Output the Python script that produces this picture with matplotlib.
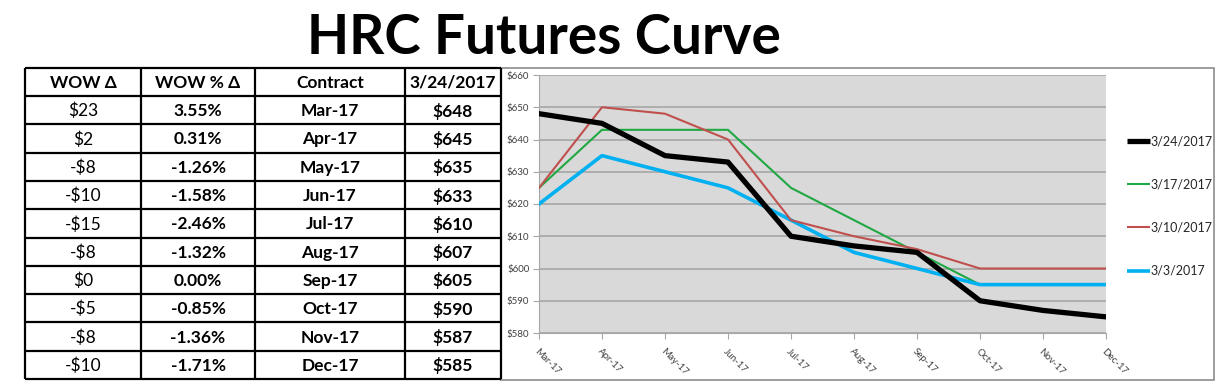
import matplotlib
matplotlib.use("Agg")
import matplotlib.pyplot as plt
from matplotlib.patches import Rectangle
from matplotlib.ticker import FuncFormatter, MultipleLocator

# ---------------- data ----------------
contracts = ["Mar-17", "Apr-17", "May-17", "Jun-17", "Jul-17",
             "Aug-17", "Sep-17", "Oct-17", "Nov-17", "Dec-17"]
series_labels = ["3/24/2017", "3/17/2017", "3/10/2017", "3/3/2017"]
curve_0324 = [648, 645, 635, 633, 610, 607, 605, 590, 587, 585]
curve_0317 = [625, 643, 643, 643, 625, 615, 605, 595, 595, 595]
curve_0310 = [625, 650, 648, 640, 615, 610, 606, 600, 600, 600]
curve_0303 = [620, 635, 630, 625, 615, 605, 600, 595, 595, 595]
wow_delta = [23, 2, -8, -10, -15, -8, 0, -5, -8, -10]
wow_pct = [3.55, 0.31, -1.26, -1.58, -2.46, -1.32, 0.00, -0.85, -1.36, -1.71]
table_headers = ["WOW Δ", "WOW % Δ", "Contract", "3/24/2017"]

W, H = 1222, 388
FONT = ["Lato", "DejaVu Sans"]
plt.rcParams["font.family"] = FONT

fig = plt.figure(figsize=(W / 100, H / 100), dpi=100)
fig.patch.set_facecolor("white")

# background axes in pixel coordinates
bg = fig.add_axes([0, 0, 1, 1])
bg.set_xlim(0, W)
bg.set_ylim(H, 0)
bg.axis("off")

# title
bg.text(544, 38, "HRC Futures Curve", fontsize=39.5, fontweight="bold",
        ha="center", va="center", color="black")

# ---------------- table ----------------
col_x = [25, 141, 255, 405, 501]
top, head_bot, bot = 68, 96, 379
n = len(contracts)
row_h = (bot - head_bot) / n
row_y = [head_bot + i * row_h for i in range(n + 1)]

for xx in col_x:
    bg.plot([xx, xx], [top, bot], color="black", lw=1.6, solid_capstyle="butt")
for y in [top, head_bot] + row_y[1:]:
    bg.plot([col_x[0], col_x[-1]], [y, y], color="black", lw=1.6,
            solid_capstyle="butt")

centers = [(col_x[i] + col_x[i + 1]) / 2 for i in range(4)]
for i, h in enumerate(table_headers):
    bg.text(centers[i], (top + head_bot) / 2 + 1, h, fontsize=12.5,
            fontweight="bold", ha="center", va="center")

def money(v):
    return ("-$%d" % abs(v)) if v < 0 else ("$%d" % v)

for r in range(n):
    yc = (row_y[r] + row_y[r + 1]) / 2 + 1
    bg.text(centers[0], yc, money(wow_delta[r]), fontsize=12.5,
            ha="center", va="center")
    bg.text(centers[1], yc, "%.2f%%" % wow_pct[r], fontsize=12.5,
            fontweight="bold", ha="center", va="center")
    bg.text(centers[2], yc, contracts[r], fontsize=12.5,
            fontweight="bold", ha="center", va="center")
    bg.text(centers[3], yc, money(curve_0324[r]), fontsize=12.5,
            fontweight="bold", ha="center", va="center")

# chart outer border
bg.add_patch(Rectangle((501, 68), 1214 - 501, 380 - 68, fill=False,
                       edgecolor="#8c8c8c", lw=1.2))

# ---------------- chart ----------------
pl, pr, pt, pb = 539, 1106, 75, 333
ax = fig.add_axes([pl / W, 1 - pb / H, (pr - pl) / W, (pb - pt) / H])
ax.set_facecolor("#d9d9d9")
x = list(range(n))
ax.plot(x, curve_0324, color="black", lw=3.8, label=series_labels[0], zorder=5)
ax.plot(x, curve_0317, color="#20a843", lw=1.5, label=series_labels[1], zorder=3)
ax.plot(x, curve_0310, color="#c0504d", lw=1.5, label=series_labels[2], zorder=4)
ax.plot(x, curve_0303, color="#00b0f0", lw=2.6, label=series_labels[3], zorder=3)

ax.set_xlim(0, n - 1)
ax.set_ylim(580, 660)
ax.yaxis.set_major_locator(MultipleLocator(10))
ax.yaxis.set_major_formatter(FuncFormatter(lambda v, p: "$%d" % v))
ax.grid(axis="y", color="#a6a6a6", lw=1.2)
ax.set_axisbelow(True)
for s in ["top", "right"]:
    ax.spines[s].set_visible(False)
ax.spines["left"].set_color("#a6a6a6")
ax.spines["bottom"].set_color("#a6a6a6")
ax.tick_params(axis="y", length=4, color="#a6a6a6", labelsize=7,
               labelcolor="#404040", pad=3)
ax.tick_params(axis="x", length=4, color="#a6a6a6", labelsize=7,
               labelcolor="#404040", pad=6)
ax.set_xticks(x)
ax.set_xticklabels(contracts, rotation=-45, ha="left", va="top",
                   rotation_mode="anchor")

leg = ax.legend(loc="center left", bbox_to_anchor=(1127 / W, 1 - 206 / H),
                bbox_transform=fig.transFigure, frameon=False, fontsize=9,
                handlelength=1.8, handletextpad=0.1, labelspacing=2.5,
                borderpad=0, borderaxespad=0)
for t in leg.get_texts():
    t.set_color("#262626")
for hl in leg.get_lines():
    hl.set_solid_capstyle("butt")

fig.savefig("out.png", dpi=100, facecolor="white")
